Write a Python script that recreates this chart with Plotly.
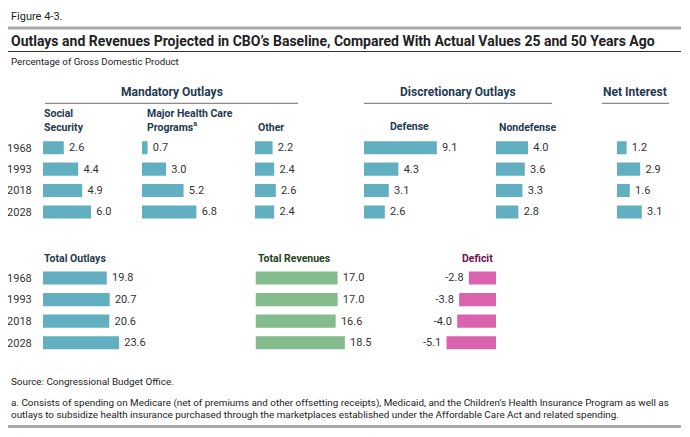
import plotly.graph_objects as go

# page body has an 8px margin: the figure is drawn from (8, 8) in the window
OFF = 8
W, H = 682, 429

years = ["1968", "1993", "2018", "2028"]

social_security = [2.6, 4.4, 4.9, 6.0]
health_care = [0.7, 3.0, 5.2, 6.8]
other_mandatory = [2.2, 2.4, 2.6, 2.4]
defense = [9.1, 4.3, 3.1, 2.6]
nondefense = [4.0, 3.6, 3.3, 2.8]
net_interest = [1.2, 2.9, 1.6, 3.1]
total_outlays = [19.8, 20.7, 20.6, 23.6]
total_revenues = [17.0, 17.0, 16.6, 18.5]
deficit = [-2.8, -3.8, -4.0, -5.1]

TEAL = "#62AFC2"
GREEN = "#85BC8D"
PINK = "#DB63AE"
HEAD = "#1F3A52"
TXT = "#333333"
FONT = "Roboto"


def px_x(p):
    return (p - OFF) / W


def px_y(p):
    return 1 - (p - OFF) / H


fig = go.Figure()

# panel spec: values, color, x-start px, px-per-unit, width px, y-top px, y-bottom px, show years, negative
panels = [
    (social_security, TEAL, 43, 8.0, 92, 137, 222.7, True, False),
    (health_care, TEAL, 142, 8.0, 108, 137, 222.7, False, False),
    (other_mandatory, TEAL, 255, 8.0, 100, 137, 222.7, False, False),
    (defense, TEAL, 364, 8.0, 128, 137, 222.7, False, False),
    (nondefense, TEAL, 496, 8.0, 110, 137, 222.7, False, False),
    (net_interest, TEAL, 617, 8.0, 60, 137, 222.7, False, False),
    (total_outlays, TEAL, 43, 3.22, 205, 267.2, 353.5, True, False),
    (total_revenues, GREEN, 255.5, 4.83, 130, 267.2, 353.5, False, False),
    (deficit, PINK, 496, 9.7, 100, 267.2, 353.5, False, True),
]

layout_axes = {}
for i, (vals, color, x0, scale, wpx, ytop, ybot, show_years, neg) in enumerate(panels):
    n = i + 1
    xa = "x" if n == 1 else f"x{n}"
    ya = "y" if n == 1 else f"y{n}"
    rng = wpx / scale
    if neg:
        xdom = [px_x(x0 - wpx), px_x(x0)]
        xrange = [-rng, 0]
        labels = [f"{v:.1f}\u2009" for v in vals]
    else:
        xdom = [px_x(x0), px_x(x0 + wpx)]
        xrange = [0, rng]
        labels = [f"\u2009{v:.1f}" for v in vals]
    fig.add_trace(go.Bar(
        x=vals, y=years, orientation="h",
        marker=dict(color=color, line=dict(width=0)),
        text=labels,
        textposition="outside",
        textfont=dict(family=FONT, size=11, color=TXT),
        cliponaxis=False, constraintext="none",
        hoverinfo="skip",
        xaxis=xa, yaxis=ya, showlegend=False,
    ))
    layout_axes["xaxis" if n == 1 else f"xaxis{n}"] = dict(
        domain=xdom, range=xrange, visible=False, fixedrange=True,
        anchor=ya,
    )
    layout_axes["yaxis" if n == 1 else f"yaxis{n}"] = dict(
        domain=[px_y(ybot), px_y(ytop)], type="category",
        categoryorder="array", categoryarray=years[::-1],
        showgrid=False, zeroline=False, showline=False,
        showticklabels=show_years, ticks="outside" if show_years else "",
        ticklen=8, tickcolor="rgba(0,0,0,0)",
        tickfont=dict(family=FONT, size=11, color=TXT),
        anchor=xa, fixedrange=True,
    )

annotations = []


def ann(text, x, y, size, color, xanchor="left", yanchor="middle", bold=False):
    annotations.append(dict(
        text=f"<b>{text}</b>" if bold else text,
        x=px_x(x), y=px_y(y), xref="paper", yref="paper",
        xanchor=xanchor, yanchor=yanchor, showarrow=False, align="left",
        font=dict(family=FONT, size=size, color=color),
    ))


ann("Figure 4-3.", 9, 16.5, 11, "#222222")
ann("Outlays and Revenues Projected in CBO’s Baseline, Compared With Actual Values 25 and 50 Years Ago",
    9, 41.5, 14, "#222222", bold=True)
ann("Percentage of Gross Domestic Product", 9, 62, 9.7, "#222222")

ann("Mandatory Outlays", 171.5, 92, 12, HEAD, xanchor="center", bold=True)
ann("Discretionary Outlays", 458, 92, 12, HEAD, xanchor="center", bold=True)
ann("Net Interest", 635, 92, 12, HEAD, xanchor="center", bold=True)

ann("Social<br>Security", 42, 136, 10.5, HEAD, yanchor="bottom", bold=True)
ann("Major Health Care<br>Programs<sup>a</sup>", 145, 136, 10.5, HEAD, yanchor="bottom", bold=True)
ann("Other", 256, 136, 10.5, HEAD, yanchor="bottom", bold=True)
ann("Defense", 388, 134.5, 10.5, HEAD, yanchor="bottom", bold=True)
ann("Nondefense", 497, 136, 10.5, HEAD, yanchor="bottom", bold=True)

ann("Total Outlays", 42, 258, 10.5, HEAD, bold=True)
ann("Total Revenues", 256, 258, 10.5, "#1E4222", bold=True)
ann("Deficit", 495, 258, 10.5, "#6E1050", xanchor="right", bold=True)

ann("Source: Congressional Budget Office.", 9, 381.7, 9.9, "#222222")
ann("a. Consists of spending on Medicare (net of premiums and other offsetting receipts), Medicaid, and the Children’s Health Insurance Program as well as",
    9, 402.7, 9.9, "#222222")
ann("outlays to subsidize health insurance purchased through the marketplaces established under the Affordable Care Act and related spending.",
    9, 414.2, 9.9, "#222222")

shapes = []


def hline(x0, x1, y, color, width):
    shapes.append(dict(type="line", xref="paper", yref="paper",
                       x0=px_x(x0), x1=px_x(x1), y0=px_y(y), y1=px_y(y),
                       line=dict(color=color, width=width)))


hline(8, 681, 28, "#A8A8A8", 3)
hline(8, 681, 51.5, "#333333", 1.2)
hline(45, 298, 103.3, "#8A8A8A", 1.3)
hline(364, 552, 103.3, "#8A8A8A", 1.3)
hline(602, 669, 103.3, "#8A8A8A", 1.3)
hline(8, 681, 426.5, "#A8A8A8", 3)

fig.update_layout(
    width=W, height=H, autosize=False,
    margin=dict(l=0, r=0, t=0, b=0),
    paper_bgcolor="white", plot_bgcolor="white",
    bargap=0.39,
    annotations=annotations, shapes=shapes,
    font=dict(family=FONT),
    **layout_axes,
)

fig.write_html("out.html", config={"displayModeBar": False})
